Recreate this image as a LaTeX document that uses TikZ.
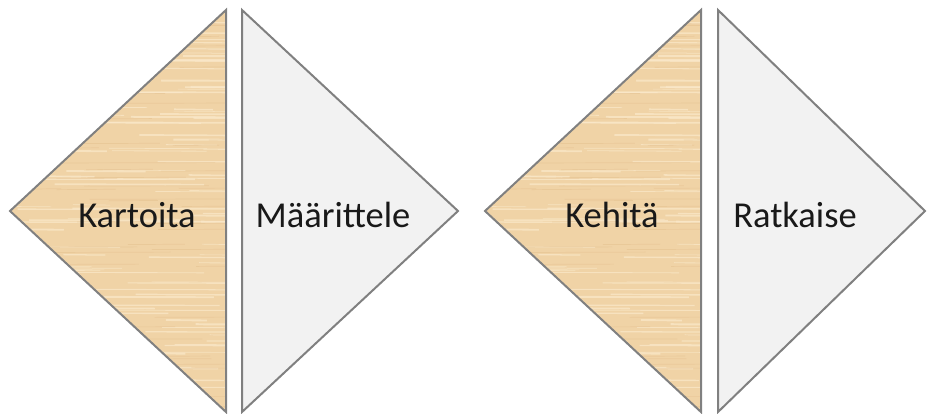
\documentclass[tikz,border=0pt]{standalone}
\usepackage{fontspec}
\setmainfont{Carlito}
\definecolor{wood}{RGB}{240,211,166}
\definecolor{woodlight}{RGB}{250,233,203}
\definecolor{wooddark}{RGB}{228,192,142}
\definecolor{edge}{RGB}{128,128,128}
\definecolor{paper}{RGB}{242,242,242}
\tikzset{
  tri/.style={draw=edge, line width=2pt, line join=miter},
  lbl/.style={font=\fontsize{36.5}{40}\selectfont, text=black!90, inner sep=0pt, anchor=base},
}
\begin{document}
\begin{tikzpicture}[x=1pt,y=-1pt]
\useasboundingbox (0,0) rectangle (927,413);
% wood triangles with streaks
\foreach \vx/\ax in {226/10, 701/485}{
  \begin{scope}
    \clip (\vx,10) -- (\ax,211) -- (\vx,412) -- cycle;
    \fill[wood] (\ax,10) rectangle (\vx,412);
    \pgfmathsetseed{7}
    \foreach \i in {1,...,110}{
      \pgfmathsetmacro{\yy}{10+rnd*402}
      \pgfmathsetmacro{\xs}{\ax-20+rnd*220}
      \pgfmathsetmacro{\len}{30+rnd*150}
      \pgfmathsetmacro{\wd}{0.5+rnd*1.5}
      \draw[woodlight, line width=\wd pt, opacity=0.7] (\xs,\yy) -- ++(\len,0.5);
    }
    \foreach \i in {1,...,60}{
      \pgfmathsetmacro{\yy}{10+rnd*402}
      \pgfmathsetmacro{\xs}{\ax-20+rnd*220}
      \pgfmathsetmacro{\len}{30+rnd*150}
      \draw[wooddark, line width=0.7pt, opacity=0.5] (\xs,\yy) -- ++(\len,-0.4);
    }
  \end{scope}
}
\draw[tri] (226,10) -- (10,211) -- (226,412) -- cycle;
\draw[tri, fill=paper] (242,10) -- (458,211) -- (242,412) -- cycle;
\draw[tri] (701,10) -- (485,211) -- (701,412) -- cycle;
\draw[tri, fill=paper] (718,10) -- (925,211) -- (718,412) -- cycle;
\node[lbl] (k1) at (137,227) {Kartoita};
\node[lbl] (k2) at (333,227) {Määrittele};
\node[lbl] (k3) at (612,227) {Kehitä};
\node[lbl] (k4) at (795,227) {Ratkaise};
\end{tikzpicture}
\end{document}
